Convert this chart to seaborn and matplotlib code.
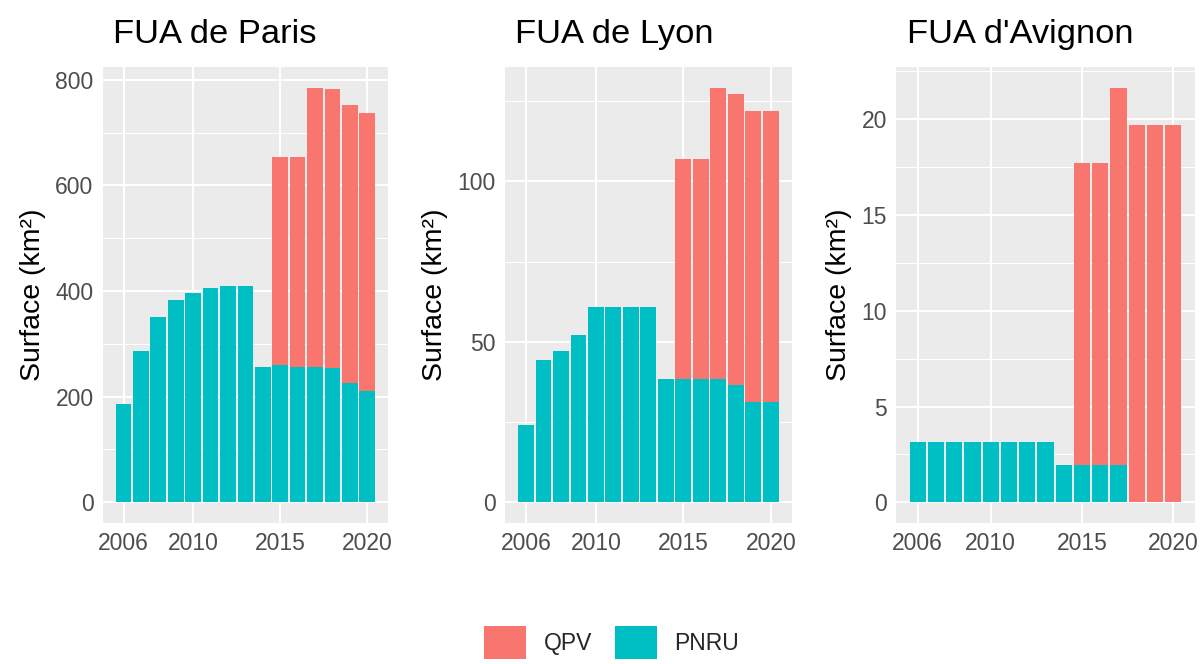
import matplotlib
matplotlib.use('Agg')
import matplotlib.pyplot as plt
import pandas as pd
import numpy as np
import seaborn as sns
from matplotlib.patches import Patch

# data (km²)
years = [2006, 2007, 2008, 2009, 2010, 2011, 2012, 2013, 2014, 2015, 2016, 2017, 2018, 2019, 2020]

paris_pnru = [186, 287, 351, 383, 397, 405, 409, 409, 257, 259, 257, 257, 255, 226, 211]
paris_qpv = [0, 0, 0, 0, 0, 0, 0, 0, 0, 394, 396, 528, 527, 526, 526]

lyon_pnru = [24.1, 44.2, 47.2, 52.2, 61.0, 61.0, 61.0, 61.0, 38.3, 38.3, 38.3, 38.3, 36.4, 31.4, 31.4]
lyon_qpv = [0, 0, 0, 0, 0, 0, 0, 0, 0, 68.6, 68.6, 90.9, 90.7, 90.7, 90.7]

avignon_pnru = [3.14, 3.14, 3.14, 3.14, 3.14, 3.14, 3.14, 3.14, 1.94, 1.94, 1.94, 1.94, 0, 0, 0]
avignon_qpv = [0, 0, 0, 0, 0, 0, 0, 0, 0, 15.76, 15.76, 19.71, 19.68, 19.68, 19.68]

titles = ['FUA de Paris', 'FUA de Lyon', "FUA d'Avignon"]
x_ticks = [2006, 2010, 2015, 2020]
y_ticks = [[0, 200, 400, 600, 800], [0, 50, 100], [0, 5, 10, 15, 20]]
y_minor = [[100, 300, 500, 700], [25, 75, 125], [2.5, 7.5, 12.5, 17.5, 22.5]]

types = ['QPV', 'PNRU']
colors = {'QPV': '#F8766D', 'PNRU': '#00BFC4'}

series = [(paris_pnru, paris_qpv), (lyon_pnru, lyon_qpv), (avignon_pnru, avignon_qpv)]

sns.set_theme(style='white')
plt.rcParams['font.family'] = ['Liberation Sans', 'DejaVu Sans']

W, H = 1203, 664
fig = plt.figure(figsize=(W / 100, H / 100), dpi=100)

# panel boxes in pixels (left, right)
panels = [(102.7, 388), (505, 791.7), (896, 1195)]
p_top, p_bot = 67, 523

for i, (pnru, qpv) in enumerate(series):
    l, r = panels[i]
    ax = fig.add_axes([l / W, 1 - p_bot / H, (r - l) / W, (p_bot - p_top) / H])
    df = pd.DataFrame({
        'year': years * 2,
        'value': list(qpv) + list(pnru),
        'type': ['QPV'] * len(years) + ['PNRU'] * len(years),
    })
    sns.histplot(data=df, x='year', weights='value', hue='type', hue_order=types,
                 multiple='stack', discrete=True, shrink=0.9, palette=colors,
                 alpha=1, linewidth=0, legend=False, ax=ax)

    ax.set_facecolor('#EBEBEB')
    for s in ax.spines.values():
        s.set_visible(False)

    total = np.array(pnru) + np.array(qpv)
    top = total.max()
    ax.set_ylim(-0.05 * top, 1.05 * top)
    lo, hi = min(years) - 0.45, max(years) + 0.45
    pad = 0.05 * (hi - lo)
    ax.set_xlim(lo - pad, hi + pad)

    ax.set_xticks(x_ticks)
    ax.set_yticks(y_ticks[i])
    ax.set_yticks(y_minor[i], minor=True)
    ax.grid(True, which='major', color='white', linewidth=1.5)
    ax.grid(True, which='minor', axis='y', color='white', linewidth=0.75)
    ax.set_axisbelow(True)
    ax.tick_params(which='major', length=3.6, width=1.1, color='#333333',
                   labelsize=16.5, labelcolor='#4D4D4D', pad=3)
    ax.tick_params(which='minor', length=0)

    ax.set_xlabel('')
    ax.set_ylabel('Surface (km²)', fontsize=20.5, color='black', labelpad=7)
    ax.text(0.036, 1 + 24 / (p_bot - p_top), titles[i], transform=ax.transAxes,
            ha='left', va='baseline', fontsize=24.8, color='black')

handles = [Patch(facecolor=colors[t], edgecolor='none') for t in types]
fig.legend(handles, types, loc='upper center', bbox_to_anchor=(611.5 / W, 1 - 626 / H),
           ncol=2, frameon=False, fontsize=16.5, handlelength=1.83, handleheight=1.83,
           handletextpad=0.76, columnspacing=1.0, borderpad=0, borderaxespad=0)

fig.savefig('out.png', dpi=100)
